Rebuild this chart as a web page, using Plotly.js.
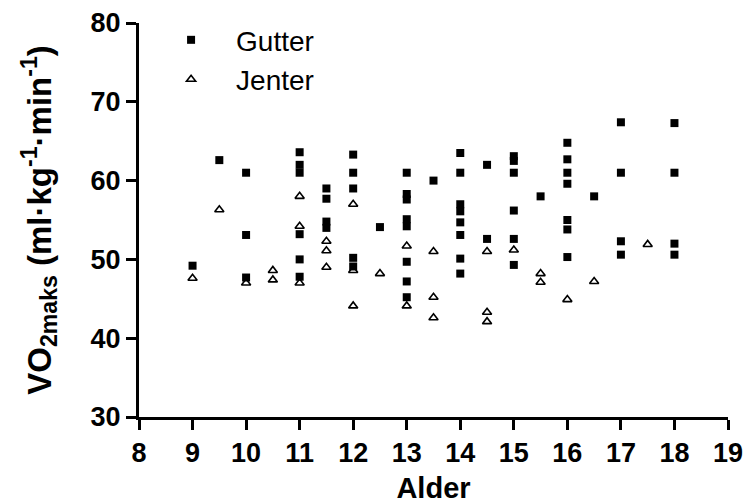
<!DOCTYPE html>
<html>
<head>
<meta charset="utf-8">
<script src="https://cdn.plot.ly/plotly-3.0.1.min.js"></script>
<style>
  html, body { margin: 0; padding: 0; background: #fff; }
  #chart { width: 745px; height: 504px; }
</style>
</head>
<body>
<div id="chart"></div>
<script>
// Maximal oxygen uptake by age, boys (Gutter) and girls (Jenter)
const gutterAge = [
  9, 9.5, 10, 10, 10,
  11, 11, 11, 11, 11, 11,
  11.5, 11.5, 11.5, 11.5,
  12, 12, 12, 12, 12,
  12.5,
  13, 13, 13, 13, 13, 13, 13, 13,
  13.5,
  14, 14, 14, 14, 14, 14, 14, 14,
  14.5, 14.5,
  15, 15, 15, 15, 15, 15,
  15.5,
  16, 16, 16, 16, 16, 16, 16,
  16.5,
  17, 17, 17, 17,
  18, 18, 18, 18
];
const gutterVO2 = [
  49.2, 62.6, 61.0, 53.1, 47.7,
  63.6, 62.0, 61.0, 53.2, 50.0, 47.8,
  59.0, 57.7, 54.8, 54.0,
  63.3, 61.0, 59.0, 50.2, 49.1,
  54.1,
  61.0, 58.3, 57.6, 55.1, 54.2, 49.7, 47.2, 45.2,
  60.0,
  63.5, 61.0, 57.0, 56.1, 54.7, 53.1, 50.1, 48.2,
  62.0, 52.6,
  63.1, 62.5, 61.0, 56.2, 52.6, 49.3,
  58.0,
  64.8, 62.7, 61.0, 59.6, 55.0, 53.8, 50.3,
  58.0,
  67.4, 61.0, 52.3, 50.6,
  67.3, 61.0, 52.0, 50.6
];

const jenterAge = [
  9, 9.5, 10, 10.5, 10.5,
  11, 11, 11,
  11.5, 11.5, 11.5,
  12, 12, 12,
  12.5,
  13, 13,
  13.5, 13.5, 13.5,
  14.5, 14.5, 14.5,
  15,
  15.5, 15.5,
  16, 16.5, 17.5
];
const jenterVO2 = [
  47.6, 56.3, 47.0, 48.6, 47.4,
  58.0, 54.2, 47.0,
  52.3, 51.1, 49.0,
  57.0, 48.6, 44.1,
  48.2,
  51.7, 44.1,
  51.0, 45.2, 42.6,
  51.0, 43.3, 42.1,
  51.2,
  48.2, 47.1,
  44.9, 47.2, 51.9
];

const xTicks = [8, 9, 10, 11, 12, 13, 14, 15, 16, 17, 18, 19];
const yTicks = [30, 40, 50, 60, 70, 80];

const FONT = '"Liberation Sans", Arial, sans-serif';

const traces = [
  {
    type: 'scatter', mode: 'markers', name: 'Gutter',
    x: gutterAge, y: gutterVO2,
    marker: { symbol: 'square', size: 8, color: '#000' }
  },
  {
    type: 'scatter', mode: 'markers', name: 'Jenter',
    x: jenterAge, y: jenterVO2,
    marker: { symbol: 'triangle-up-open', size: 8, color: '#000', line: { width: 1.6, color: '#000' } }
  }
];

const axisCommon = {
  showgrid: false, zeroline: false,
  showline: true, linecolor: '#000', linewidth: 3,
  ticks: 'outside', ticklen: 10, tickwidth: 3, tickcolor: '#000',
  tickfont: { family: FONT, size: 27, color: '#000', weight: 'bold' }
};

const layout = {
  width: 745, height: 504,
  paper_bgcolor: '#fff', plot_bgcolor: '#fff',
  margin: { l: 139, r: 17, t: 23, b: 87 },
  font: { family: FONT, color: '#000' },
  showlegend: true,
  legend: {
    x: 0.012, y: 1.02, xanchor: 'left', yanchor: 'top',
    itemwidth: 80,
    bgcolor: 'rgba(0,0,0,0)',
    font: { family: FONT, size: 28, color: '#000' }
  },
  xaxis: Object.assign({}, axisCommon, {
    range: [8, 19], tickvals: xTicks,
    title: { text: 'Alder', font: { family: FONT, size: 29, color: '#000', weight: 'bold' }, standoff: 12 }
  }),
  yaxis: Object.assign({}, axisCommon, {
    range: [30, 80], tickvals: yTicks,
    title: {
      text: 'VO<sub>2maks</sub> (ml·kg<sup>-1</sup>·min<sup>-1</sup>)',
      font: { family: FONT, size: 33, color: '#000', weight: 'bold' }, standoff: 30
    }
  })
};

Plotly.newPlot('chart', traces, layout, { displayModeBar: false, staticPlot: true });
</script>
</body>
</html>
